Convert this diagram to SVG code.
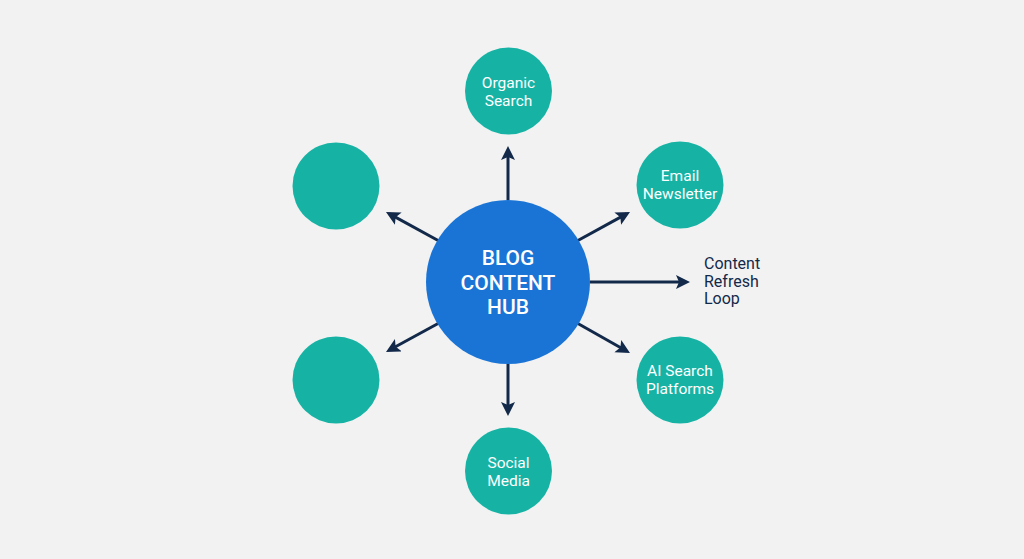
<svg xmlns="http://www.w3.org/2000/svg" width="1024" height="559" viewBox="0 0 1024 559">
  <style>
    .sat { fill: #16b3a5; }
    .hub { fill: #1a74d6; }
    .conn { stroke: #12294a; stroke-width: 3; fill: none; marker-end: url(#arr); }
    .st { font-family: Roboto, "Liberation Sans", sans-serif; font-size: 15.5px; fill: #ffffff; text-anchor: middle; }
    .ht { font-family: Roboto, "Liberation Sans", sans-serif; font-size: 21px; font-weight: 500; fill: #ffffff; text-anchor: middle; }
    .lbl { font-family: Roboto, "Liberation Sans", sans-serif; font-size: 16px; fill: #12294a; }
  </style>
  <defs>
    <marker id="arr" markerUnits="userSpaceOnUse" markerWidth="16" markerHeight="16" refX="10" refY="7" orient="auto" viewBox="0 0 16 16">
      <path d="M0,0 L14,7 L0,14 L3,7 z" fill="#12294a"/>
    </marker>
  </defs>
  <rect x="0" y="0" width="1024" height="559" fill="#f2f2f2"/>

  <g id="connectors">
    <line class="conn" x1="508" y1="200" x2="508" y2="150"/>
    <line class="conn" x1="508" y1="364" x2="508" y2="412"/>
    <line class="conn" x1="590" y1="282" x2="686" y2="282"/>
    <line class="conn" x1="577" y1="241" x2="626.5" y2="213.9"/>
    <line class="conn" x1="577" y1="323" x2="626.5" y2="351"/>
    <line class="conn" x1="439" y1="241" x2="389.5" y2="213.9"/>
    <line class="conn" x1="439" y1="323" x2="389.5" y2="350"/>
  </g>

  <g id="hub">
    <circle class="hub" cx="508" cy="282" r="82"/>
    <text class="ht" x="508" y="265">BLOG</text>
    <text class="ht" x="508" y="290">CONTENT</text>
    <text class="ht" x="508" y="314">HUB</text>
  </g>

  <g id="organic-search">
    <circle class="sat" cx="508.5" cy="91" r="43.5"/>
    <text class="st" x="508.5" y="88">Organic</text>
    <text class="st" x="508.5" y="106">Search</text>
  </g>

  <g id="email-newsletter">
    <circle class="sat" cx="680" cy="185" r="43.5"/>
    <text class="st" x="680" y="181">Email</text>
    <text class="st" x="680" y="199">Newsletter</text>
  </g>

  <g id="ai-search-platforms">
    <circle class="sat" cx="680" cy="380" r="43.5"/>
    <text class="st" x="680" y="376">AI Search</text>
    <text class="st" x="680" y="394">Platforms</text>
  </g>

  <g id="social-media">
    <circle class="sat" cx="508.5" cy="471" r="43.5"/>
    <text class="st" x="508.5" y="468">Social</text>
    <text class="st" x="508.5" y="486">Media</text>
  </g>

  <g id="node-top-left">
    <circle class="sat" cx="336" cy="186" r="43.5"/>
  </g>

  <g id="node-bottom-left">
    <circle class="sat" cx="336" cy="380" r="43.5"/>
  </g>

  <g id="content-refresh-loop">
    <text class="lbl" x="704" y="269">Content</text>
    <text class="lbl" x="704" y="287">Refresh</text>
    <text class="lbl" x="704" y="304">Loop</text>
  </g>
</svg>
